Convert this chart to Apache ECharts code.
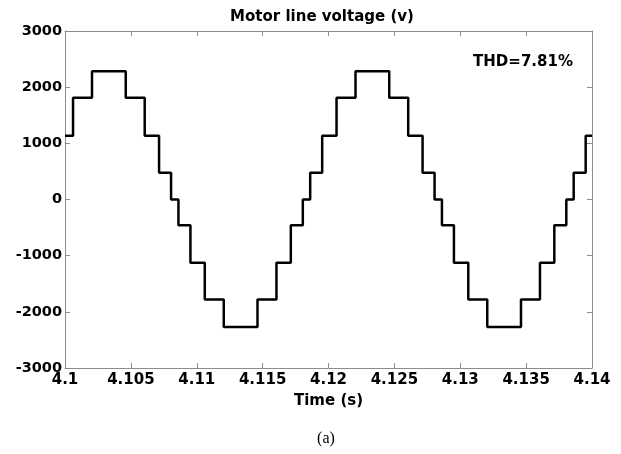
<!DOCTYPE html>
<html>
<head>
<meta charset="utf-8">
<script src="https://cdn.jsdelivr.net/npm/echarts@6/dist/echarts.min.js"></script>
<style>
html,body{margin:0;padding:0;background:#fff;}
#c{width:621px;height:454px;}
</style>
</head>
<body>
<div id="c"></div>
<script>
// Switching instants (s) and the voltage level (V) held from each instant on
const switchTimes = [4.1, 4.10061, 4.10205, 4.10461, 4.10605, 4.10714, 4.10805, 4.10861, 4.10952, 4.11061, 4.11205,
  4.11461, 4.11605, 4.11714, 4.11805, 4.11861, 4.11952, 4.12061, 4.12205,
  4.12461, 4.12605, 4.12714, 4.12805, 4.12861, 4.12952, 4.13061, 4.13205,
  4.13461, 4.13605, 4.13714, 4.13805, 4.13861, 4.13952, 4.14];
const levels = [1135, 1810, 2285, 1810, 1135, 478, 0, -458, -1125, -1780, -2268,
  -1780, -1125, -458, 0, 478, 1135, 1810, 2285,
  1810, 1135, 478, 0, -458, -1125, -1780, -2268,
  -1780, -1125, -458, 0, 478, 1135, 1135];
const xTicks = ['4.1','4.105','4.11','4.115','4.12','4.125','4.13','4.135','4.14'];
const yTicks = ['-3000','-2000','-1000','0','1000','2000','3000'];
const titleText = 'Motor line voltage (v)';
const xName = 'Time (s)';
const thdText = 'THD=7.81%';
const caption = '(a)';

const data = switchTimes.map((t, i) => [t, levels[i]]);
const axisColor = '#8c8c8c';
const lblFont = 'DejaVu Sans';

const chart = echarts.init(document.getElementById('c'), null, {renderer: 'canvas'});
chart.setOption({
  animation: false,
  backgroundColor: '#fff',
  grid: {left: 65, right: 29, top: 31, bottom: 86, containLabel: false},
  xAxis: [{
    type: 'value', min: 4.1, max: 4.14, interval: 0.005, position: 'bottom',
    name: xName, nameLocation: 'middle', nameGap: 26,
    nameTextStyle: {fontFamily: lblFont, fontWeight: 'bold', fontSize: 15, color: '#000'},
    axisLine: {show: true, onZero: false, lineStyle: {color: axisColor, width: 1}},
    axisTick: {show: true, inside: true, length: 5, lineStyle: {color: axisColor}},
    axisLabel: {show: true, margin: 5, fontFamily: lblFont, fontWeight: 'bold', fontSize: 15, color: '#000',
      formatter: (v) => { const i = Math.round((v - 4.1) / 0.005); return xTicks[i] || ''; }},
    splitLine: {show: false}
  }, {
    type: 'value', min: 4.1, max: 4.14, interval: 0.005, position: 'top',
    axisLine: {show: true, onZero: false, lineStyle: {color: axisColor, width: 1}},
    axisTick: {show: true, inside: true, length: 5, lineStyle: {color: axisColor}},
    axisLabel: {show: false}, splitLine: {show: false}
  }],
  yAxis: [{
    type: 'value', min: -3000, max: 3000, interval: 1000, position: 'left',
    axisLine: {show: true, onZero: false, lineStyle: {color: axisColor, width: 1}},
    axisTick: {show: true, inside: true, length: 5, lineStyle: {color: axisColor}},
    axisLabel: {show: true, margin: 3, fontFamily: lblFont, fontWeight: 'bold', fontSize: 14.5, color: '#000',
      formatter: (v) => { const i = Math.round((v + 3000) / 1000); return yTicks[i] || ''; }},
    splitLine: {show: false}
  }, {
    type: 'value', min: -3000, max: 3000, interval: 1000, position: 'right',
    axisLine: {show: true, onZero: false, lineStyle: {color: axisColor, width: 1}},
    axisTick: {show: true, inside: true, length: 5, lineStyle: {color: axisColor}},
    axisLabel: {show: false}, splitLine: {show: false}
  }],
  series: [{
    type: 'line', xAxisIndex: 0, yAxisIndex: 0,
    data: data, step: 'end', showSymbol: false, symbol: 'none',
    lineStyle: {color: '#000', width: 2.5}
  }],
  graphic: [
    {type: 'text', x: 322, y: 17, style: {text: titleText, font: 'bold 15px "DejaVu Sans"', fill: '#000', align: 'center', verticalAlign: 'middle', textAlign: 'center', textVerticalAlign: 'middle'}},
    {type: 'text', x: 523, y: 62, style: {text: thdText, font: 'bold 15px "DejaVu Sans"', fill: '#000', align: 'center', verticalAlign: 'middle', textAlign: 'center', textVerticalAlign: 'middle'}},
    {type: 'text', x: 326, y: 439, style: {text: caption, font: '16px "Liberation Serif"', fill: '#000', align: 'center', verticalAlign: 'middle', textAlign: 'center', textVerticalAlign: 'middle'}}
  ]
});
</script>
</body>
</html>
